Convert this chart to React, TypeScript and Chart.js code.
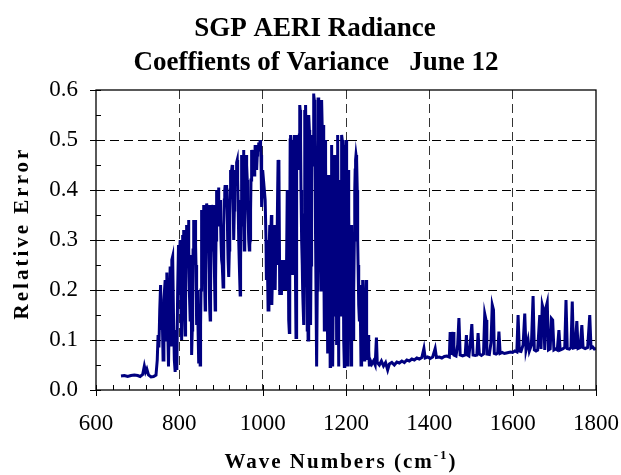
import React, { useEffect, useRef } from "react";
import { Chart, registerables } from "chart.js";

Chart.register(...registerables);

const titleLines = ["SGP AERI Radiance", "Coeffients of Variance   June 12"];
const xAxisTitle = "Wave Numbers (cm";
const xAxisSuper = "-1";
const xAxisClose = ")";
const yAxisTitle = "Relative Error";

const xMin = 600;
const xMax = 1800;
const xStep = 200;
const xMinorStep = 40;
const yMin = 0;
const yMax = 0.6;
const yStep = 0.1;
const yMinorStep = 0.05;

const waveNumbers = [
  660, 668, 676, 684, 692, 700, 706, 712, 716, 719, 722, 726, 732, 738, 744, 747, 749, 751, 753, 755,
  757, 759, 761, 763, 766, 768, 770, 772, 774, 776, 778, 780, 782, 784, 786, 788, 790, 792, 794, 796, 798,
  800, 801, 802, 803, 804, 805, 806, 807, 808, 809,
  810, 811, 812, 813, 814, 815, 816, 817, 818, 819,
  820, 821, 822, 823, 824, 825, 826, 827, 828, 829,
  830, 831, 832, 833, 834, 835, 836, 837, 838, 839,
  840, 841, 842, 843, 844, 845, 846, 847, 848, 849,
  850, 851, 852, 853, 854, 855, 856, 857, 858, 859,
  860, 861, 862, 863, 864, 865, 866, 867, 868, 869,
  870, 871, 872, 873, 874, 875, 876, 877, 878, 879,
  880, 881, 882, 883, 884, 885, 886, 887, 888, 889,
  890, 891, 892, 893, 894, 895, 896, 897, 898, 899,
  900, 901, 902, 903, 904, 905, 906, 907, 908, 909,
  910, 911, 912, 913, 914, 915, 916, 917, 918, 919,
  920, 921, 922, 923, 924, 925, 926, 927, 928, 929,
  930, 931, 932, 933, 934, 935, 936, 937, 938, 939,
  940, 941, 942, 943, 944, 945, 946, 947, 948, 949,
  950, 951, 952, 953, 954, 955, 956, 957, 958, 959,
  960, 961, 962, 963, 964, 965, 966, 967, 968, 969,
  970, 971, 972, 973, 974, 975, 976, 977, 978, 979,
  980, 981, 982, 983, 984, 985, 986, 987, 988, 989,
  990, 991, 992, 993, 994, 995, 996, 997, 998, 999,
  1000, 1002, 1004, 1006, 1008, 1009, 1011, 1013, 1015, 1017, 1019, 1021, 1022, 1024, 1026, 1028, 1030,
  1032, 1034, 1036, 1037, 1039, 1041, 1043, 1045, 1047, 1049, 1051, 1053, 1055, 1057, 1059,
  1060, 1061, 1062, 1063, 1064, 1065, 1066, 1067, 1068, 1069,
  1070, 1071, 1072, 1073, 1074, 1075, 1076, 1077, 1078, 1079,
  1080, 1081, 1082, 1083, 1084, 1085, 1086, 1087, 1088, 1089,
  1090, 1091, 1092, 1093, 1094, 1095, 1096, 1097, 1098, 1099,
  1100, 1101, 1102, 1103, 1104, 1105, 1106, 1107, 1108, 1109,
  1110, 1111, 1112, 1113, 1114, 1115, 1116, 1117, 1118, 1119,
  1120, 1121, 1122, 1123, 1124, 1125, 1126, 1127, 1128, 1129,
  1130, 1131, 1132, 1133, 1134, 1135, 1136, 1137, 1138, 1139,
  1140, 1141, 1142, 1143, 1144, 1145, 1146, 1147, 1148, 1149,
  1150, 1151, 1152, 1153, 1154, 1155, 1156, 1157, 1158, 1159,
  1160, 1161, 1162, 1163, 1164, 1165, 1166, 1167, 1168, 1169,
  1170, 1171, 1172, 1173, 1174, 1175, 1176, 1177, 1178, 1179,
  1180, 1181, 1182, 1183, 1184, 1185, 1186, 1187, 1188, 1189,
  1190, 1191, 1192, 1193, 1194, 1195, 1196, 1197, 1198, 1199,
  1200, 1201, 1202, 1203, 1204, 1205, 1206, 1207, 1208, 1209,
  1210, 1211, 1212, 1213, 1214, 1215, 1216, 1217, 1218, 1219,
  1220, 1221, 1222, 1223, 1224, 1225, 1226, 1227, 1228, 1229,
  1230, 1231, 1232, 1233, 1234, 1235, 1236, 1237, 1238, 1239,
  1240, 1241, 1242, 1243, 1244, 1245, 1246, 1247, 1248, 1249,
  1250, 1251, 1252, 1253, 1254, 1255, 1256, 1257, 1258,
  1262, 1266, 1270, 1273, 1275, 1280, 1285, 1290,
  1295, 1300, 1304, 1310, 1316, 1322, 1328, 1334, 1340, 1346, 1352, 1358, 1364, 1370, 1376, 1382, 1387, 1390, 1396, 1402,
  1408, 1414, 1417, 1424, 1430, 1436, 1442, 1448, 1450, 1452, 1455, 1457, 1459, 1464, 1468, 1471, 1474, 1480, 1486, 1489,
  1491, 1495, 1499, 1502, 1505, 1510, 1514, 1517, 1520, 1525, 1530, 1533, 1536, 1538, 1544, 1548, 1551, 1554, 1556, 1560,
  1564, 1567, 1570, 1575, 1580, 1585, 1590, 1595, 1600, 1605, 1610, 1613, 1616, 1620, 1625, 1629, 1632, 1637, 1640, 1645,
  1649, 1652, 1656, 1660, 1665, 1668, 1671, 1674, 1677, 1680, 1683, 1686, 1690, 1693, 1696, 1699, 1703, 1707, 1711, 1714,
  1720, 1725, 1728, 1731, 1736, 1740, 1743, 1746, 1750, 1754, 1757, 1762, 1766, 1769, 1774, 1780, 1785, 1788, 1792, 1796,
  1800,
];

const relativeError = [
  0.028, 0.029, 0.027, 0.029, 0.030, 0.029, 0.027, 0.031, 0.048, 0.036, 0.042, 0.030, 0.026, 0.027, 0.030, 0.060, 0.110, 0.085, 0.160, 0.210,
  0.120, 0.150, 0.060, 0.180, 0.220, 0.100, 0.235, 0.130, 0.047, 0.160, 0.247, 0.090, 0.260, 0.267, 0.150, 0.060, 0.036, 0.120, 0.040, 0.200, 0.290,
  0.230, 0.280, 0.300, 0.220, 0.160, 0.120, 0.100, 0.200, 0.310, 0.290,
  0.320, 0.250, 0.200, 0.150, 0.110, 0.180, 0.250, 0.310, 0.330, 0.260,
  0.290, 0.330, 0.340, 0.280, 0.200, 0.170, 0.140, 0.220, 0.270, 0.180,
  0.070, 0.120, 0.180, 0.280, 0.340, 0.320, 0.300, 0.330, 0.340, 0.290,
  0.250, 0.180, 0.130, 0.170, 0.200, 0.120, 0.053, 0.100, 0.150, 0.120,
  0.050, 0.130, 0.200, 0.300, 0.360, 0.340, 0.300, 0.350, 0.370, 0.320,
  0.250, 0.200, 0.160, 0.230, 0.300, 0.350, 0.373, 0.360, 0.330, 0.350,
  0.370, 0.300, 0.200, 0.160, 0.140, 0.200, 0.280, 0.340, 0.370, 0.360,
  0.330, 0.350, 0.370, 0.320, 0.250, 0.200, 0.160, 0.220, 0.300, 0.360,
  0.400, 0.380, 0.360, 0.390, 0.405, 0.370, 0.330, 0.360, 0.380, 0.340,
  0.300, 0.280, 0.260, 0.250, 0.230, 0.206, 0.260, 0.330, 0.380, 0.400,
  0.410, 0.390, 0.380, 0.400, 0.410, 0.360, 0.300, 0.260, 0.240, 0.226,
  0.280, 0.350, 0.400, 0.440, 0.430, 0.420, 0.440, 0.450, 0.410, 0.380,
  0.340, 0.300, 0.360, 0.420, 0.430, 0.440, 0.420, 0.450, 0.455, 0.460,
  0.420, 0.380, 0.340, 0.300, 0.250, 0.220, 0.190, 0.260, 0.330, 0.400,
  0.470, 0.450, 0.440, 0.460, 0.480, 0.400, 0.280, 0.330, 0.400, 0.440,
  0.470, 0.460, 0.450, 0.420, 0.380, 0.350, 0.330, 0.300, 0.280, 0.290,
  0.300, 0.360, 0.420, 0.460, 0.480, 0.470, 0.460, 0.470, 0.480, 0.450,
  0.430, 0.460, 0.490, 0.480, 0.470, 0.450, 0.440, 0.470, 0.490, 0.480,
  0.495, 0.490, 0.480, 0.490, 0.500, 0.490, 0.470, 0.420, 0.366, 0.400,
  0.440, 0.420, 0.400, 0.380, 0.300, 0.220, 0.280, 0.160, 0.260, 0.330, 0.300, 0.350, 0.170, 0.250, 0.300, 0.330, 0.200,
  0.330, 0.250, 0.400, 0.460, 0.450, 0.190, 0.240, 0.190, 0.260, 0.220, 0.200, 0.260, 0.200, 0.220, 0.400,
  0.400, 0.390, 0.300, 0.140, 0.115, 0.300, 0.500, 0.510, 0.480, 0.420,
  0.420, 0.300, 0.230, 0.350, 0.500, 0.480, 0.510, 0.420, 0.300, 0.200,
  0.105, 0.300, 0.510, 0.480, 0.500, 0.470, 0.440, 0.480, 0.510, 0.570,
  0.560, 0.500, 0.400, 0.350, 0.300, 0.250, 0.200, 0.170, 0.150, 0.130,
  0.350, 0.560, 0.520, 0.570, 0.500, 0.440, 0.300, 0.120, 0.200, 0.100,
  0.300, 0.550, 0.520, 0.510, 0.300, 0.130, 0.250, 0.400, 0.480, 0.510,
  0.470, 0.450, 0.593, 0.590, 0.580, 0.500, 0.420, 0.300, 0.200, 0.100,
  0.047, 0.200, 0.420, 0.585, 0.570, 0.560, 0.500, 0.400, 0.300, 0.250,
  0.200, 0.400, 0.580, 0.520, 0.450, 0.500, 0.530, 0.300, 0.120, 0.300,
  0.500, 0.450, 0.350, 0.400, 0.430, 0.200, 0.073, 0.150, 0.250, 0.350,
  0.430, 0.200, 0.047, 0.200, 0.350, 0.450, 0.490, 0.200, 0.047, 0.150,
  0.300, 0.400, 0.470, 0.350, 0.200, 0.350, 0.470, 0.300, 0.090, 0.300,
  0.510, 0.300, 0.047, 0.200, 0.350, 0.380, 0.420, 0.300, 0.150, 0.350,
  0.510, 0.500, 0.480, 0.350, 0.200, 0.100, 0.047, 0.300, 0.490, 0.480,
  0.500, 0.460, 0.420, 0.200, 0.047, 0.250, 0.440, 0.350, 0.240, 0.300,
  0.240, 0.150, 0.050, 0.200, 0.330, 0.250, 0.200, 0.150, 0.100, 0.200,
  0.300, 0.400, 0.440, 0.460, 0.470, 0.465, 0.460, 0.400, 0.300, 0.250,
  0.200, 0.170, 0.140, 0.180, 0.210, 0.120, 0.050, 0.120, 0.190, 0.200,
  0.220, 0.190, 0.150, 0.100, 0.060, 0.080, 0.100, 0.160, 0.220, 0.180,
  0.110, 0.080, 0.060, 0.090, 0.110, 0.080, 0.050, 0.055, 0.060,
  0.052, 0.058, 0.050, 0.105, 0.055, 0.050, 0.058, 0.048,
  0.055, 0.040, 0.052, 0.055, 0.050, 0.056, 0.054, 0.058, 0.055, 0.060, 0.058, 0.062, 0.060, 0.064, 0.062, 0.065, 0.083, 0.064, 0.066, 0.063,
  0.066, 0.083, 0.065, 0.066, 0.064, 0.067, 0.068, 0.066, 0.116, 0.070, 0.105, 0.116, 0.070, 0.068, 0.090, 0.144, 0.070, 0.068, 0.070, 0.110,
  0.070, 0.068, 0.100, 0.132, 0.070, 0.069, 0.070, 0.114, 0.072, 0.069, 0.072, 0.152, 0.140, 0.072, 0.071, 0.095, 0.170, 0.160, 0.073, 0.072,
  0.074, 0.117, 0.073, 0.075, 0.073, 0.074, 0.075, 0.076, 0.075, 0.078, 0.076, 0.150, 0.078, 0.077, 0.090, 0.153, 0.080, 0.100, 0.078, 0.090,
  0.188, 0.080, 0.078, 0.080, 0.150, 0.082, 0.170, 0.160, 0.080, 0.165, 0.175, 0.080, 0.082, 0.143, 0.140, 0.080, 0.082, 0.080, 0.120, 0.080,
  0.082, 0.085, 0.180, 0.083, 0.082, 0.085, 0.177, 0.084, 0.085, 0.138, 0.083, 0.085, 0.130, 0.085, 0.083, 0.085, 0.150, 0.084, 0.086, 0.082,
  0.083,
];

const SERIF = '"Liberation Serif", "Times New Roman", Times, serif';
const LINE_COLOR = "#000080";

const decorPlugin = {
  id: "decor",
  afterDraw(chart: any) {
    const { ctx, chartArea: a, scales } = chart;
    const xs = scales.x;
    const ys = scales.y;
    ctx.save();
    ctx.setLineDash([]);
    ctx.strokeStyle = "#000";
    ctx.lineWidth = 1.3;
    ctx.strokeRect(a.left, a.top, a.right - a.left, a.bottom - a.top);

    ctx.lineWidth = 1;
    ctx.beginPath();
    for (let v = xMin; v <= xMax + 1e-6; v += xMinorStep) {
      const px = Math.round(xs.getPixelForValue(v)) + 0.5;
      const major = Math.abs(v % xStep) < 1e-6;
      ctx.moveTo(px, a.bottom + (major ? 6 : 0));
      ctx.lineTo(px, a.bottom - 5);
    }
    for (let i = 0; i * yMinorStep <= yMax + 1e-6; i++) {
      const v = i * yMinorStep;
      const py = Math.round(ys.getPixelForValue(v)) + 0.5;
      const major = i % 2 === 0;
      ctx.moveTo(a.left - (major ? 6 : 0), py);
      ctx.lineTo(a.left + 5, py);
    }
    ctx.stroke();

    ctx.fillStyle = "#000";
    // Chart title
    ctx.font = `bold 27px ${SERIF}`;
    ctx.textAlign = "center";
    ctx.textBaseline = "alphabetic";
    ctx.fillText(titleLines[0], 315, 36);
    ctx.fillText(titleLines[1], 316, 70);

    // X axis title with superscript
    (ctx as any).letterSpacing = "2px";
    const mainFont = `bold 21px ${SERIF}`;
    const supFont = `bold 13px ${SERIF}`;
    ctx.font = mainFont;
    const w1 = ctx.measureText(xAxisTitle).width;
    const w3 = ctx.measureText(xAxisClose).width;
    ctx.font = supFont;
    const w2 = ctx.measureText(xAxisSuper).width;
    const total = w1 + w2 + w3;
    let sx = 341 - total / 2;
    const by = 468;
    ctx.textAlign = "left";
    ctx.font = mainFont;
    ctx.fillText(xAxisTitle, sx, by);
    sx += w1;
    ctx.font = supFont;
    ctx.fillText(xAxisSuper, sx, by - 9);
    sx += w2;
    ctx.font = mainFont;
    ctx.fillText(xAxisClose, sx, by);

    // Y axis title
    ctx.translate(28, 233);
    ctx.rotate(-Math.PI / 2);
    ctx.textAlign = "center";
    (ctx as any).letterSpacing = "3px";
    ctx.font = `bold 21px ${SERIF}`;
    ctx.fillText(yAxisTitle, 0, 0);
    ctx.restore();
  },
};

export default function App() {
  const canvasRef = useRef<HTMLCanvasElement | null>(null);

  useEffect(() => {
    const canvas = canvasRef.current;
    if (!canvas) return;
    const points = waveNumbers.map((x, i) => ({ x, y: relativeError[i] }));
    const chart = new Chart(canvas, {
      type: "line",
      data: {
        datasets: [
          {
            data: points,
            borderColor: LINE_COLOR,
            borderWidth: 3,
            pointRadius: 0,
            tension: 0,
            fill: false,
            borderJoinStyle: "miter",
          },
        ],
      },
      options: {
        animation: false,
        responsive: false,
        maintainAspectRatio: false,
        layout: { padding: { top: 90, right: 25, left: 0, bottom: 0 } },
        plugins: {
          legend: { display: false },
          tooltip: { enabled: false },
          title: { display: false },
        },
        scales: {
          x: {
            type: "linear",
            min: xMin,
            max: xMax,
            afterFit: (s: any) => {
              s.height = 85;
              s.paddingLeft = 0;
              s.paddingRight = 0;
            },
            ticks: {
              stepSize: xStep,
              color: "#000",
              font: { family: SERIF, size: 23 },
              padding: 20,
              maxRotation: 0,
              callback: (v: any) => String(v),
            },
            grid: {
              drawTicks: false,
              lineWidth: 1,
              color: (c: any) =>
                c.tick && (c.tick.value === xMin || c.tick.value === xMax) ? "rgba(0,0,0,0)" : "#333",
            },
            border: { display: false, dash: [9, 5] },
          },
          y: {
            type: "linear",
            min: yMin,
            max: yMax,
            afterFit: (s: any) => {
              s.width = 96;
              s.paddingTop = 0;
              s.paddingBottom = 0;
            },
            ticks: {
              stepSize: yStep,
              color: "#000",
              font: { family: SERIF, size: 23 },
              padding: 18,
              callback: (v: any) => Number(v).toFixed(1),
            },
            grid: {
              drawTicks: false,
              lineWidth: 1,
              color: (c: any) =>
                c.tick && (Math.abs(c.tick.value - yMin) < 1e-9 || Math.abs(c.tick.value - yMax) < 1e-9)
                  ? "rgba(0,0,0,0)"
                  : "#000",
            },
            border: { display: false, dash: [9, 5] },
          },
        },
      },
      plugins: [decorPlugin],
    });
    return () => chart.destroy();
  }, []);

  return (
    <div style={{ position: "fixed", left: 0, top: 0, width: 621, height: 475, background: "#fff" }}>
      <canvas ref={canvasRef} width={621} height={475} style={{ display: "block" }} />
    </div>
  );
}
